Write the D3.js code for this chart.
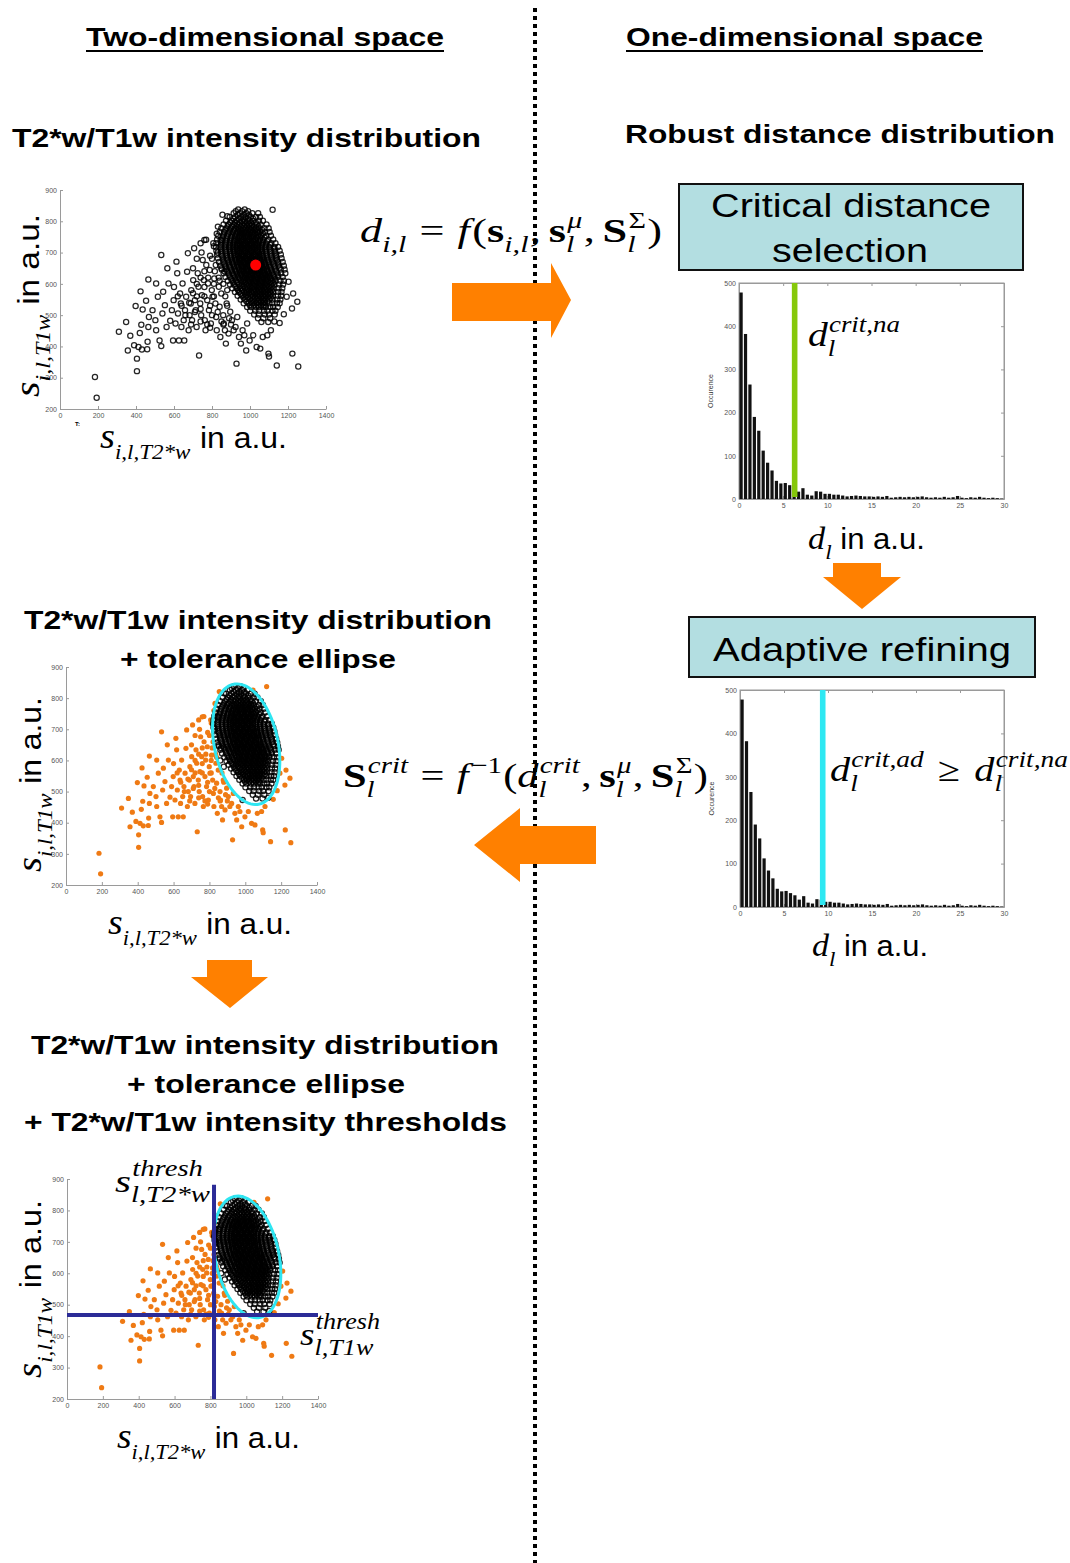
<!DOCTYPE html>
<html>
<head>
<meta charset="utf-8">
<script src="https://cdn.jsdelivr.net/npm/d3@7"></script>
<style>
  body { margin: 0; background: #fff; }
  svg { display: block; }
  .ax path, .ax line { stroke: #9a9a9a; }
  .ax text { font-family: 'Liberation Sans', Arial, sans-serif; font-size: 7px; fill: #555; }
</style>
</head>
<body>
<svg id="fig"></svg>
<script>
// tick labels
const xTicks = [0, 200, 400, 600, 800, 1000, 1200, 1400];
const yTicks = [200, 300, 400, 500, 600, 700, 800, 900];
const dTicks = [0, 5, 10, 15, 20, 25, 30];
const occTicks = [0, 100, 200, 300, 400, 500];

// robust distance histogram, bins of 0.5 a.u. from 0 to 30
const binWidth = 0.5;
const occurrence = [478, 382, 265, 190, 158, 112, 84, 66, 42, 36,
                    37, 32, 27, 17, 25, 10, 8, 18, 17, 12,
                    12, 10, 10, 8, 6, 7, 8, 7, 6, 6,
                    5, 6, 5, 7, 3, 4, 5, 4, 5, 4,
                    5, 6, 4, 3, 4, 3, 5, 3, 4, 7,
                    3, 2, 4, 3, 5, 3, 2, 3, 2, 1];

// voxels away from the main cluster [T2*w, T1w]
const scattered = [
    [184,302],[193,236],[310,447],[348,478],[357,387],[370,434],[390,404],[398,529],[405,361],
    [405,321],[413,398],[420,443],[424,576],[428,469],[431,390],[435,518],[453,546],[459,391],
    [461,415],[465,614],[465,462],[468,494],[487,516],[502,484],[506,452],[506,601],[515,559],
    [524,419],[533,401],[533,692],[539,505],[543,575],[552,532],[561,462],[565,650],[571,601],
    [580,482],[589,516],[595,419],[598,548],[608,473],[613,671],[617,634],[621,505],[626,419],
    [632,569],[636,537],[639,462],[645,601],[651,484],[654,419],[658,516],[664,559],[669,639],
    [673,698],[677,452],[682,500],[688,537],[691,580],[695,484],[701,612],[706,714],[710,548],
    [714,516],[719,462],[725,634],[729,591],[732,371],[738,537],[743,500],[747,564],[751,676],
    [757,612],[762,484],[766,452],[769,741],[775,548],[779,601],[784,516],[788,644],[794,473],
    [799,580],[803,559],[807,730],[812,617],[818,537],[822,494],[825,452],[831,783],[836,591],
    [840,527],[844,430],[849,569],[855,821],[859,500],[862,473],[868,452],[873,409],[877,537],
    [881,816],[887,441],[896,511],[905,484],[914,452],[924,462],[929,345],[933,494],[942,430],
    [952,409],[961,452],[970,436],[980,387],[985,473],[998,419],[1017,436],[1035,398],[1054,393],
    [1067,430],[1091,436],[1097,377],[1100,368],[1110,452],[1128,480],[1141,339],[1178,503],
    [1203,607],[1221,521],[1227,569],[1249,543],[1223,377],[1254,336],[1119,837],[1156,475],
    [1193,559],[760,560],[790,530],[810,600],[840,610],[850,650],[700,570],[720,600],[760,640],
    [820,660],[680,540],[740,520],[790,690],[830,700],[845,740],[700,650],[720,680],[745,700],
    [770,660],[800,680],[815,640],[835,620],[860,600],[870,560],[880,530],[850,480],[830,510],
    [800,500],[775,470],[740,480],[710,510],[690,470],[660,500],[640,530],[620,560],[600,590],
    [760,590],[780,620],[740,620],[720,560],[810,560],[790,460],[860,470],[890,490],[900,470],
    [760,740],[740,730],[880,580],[865,640],[825,760],[810,720]
];

// main cluster, one row per T1w level: [T1w, [T2*w values]]
const clusterRows = [
    [838, [938, 972]],
    [832, [925, 958, 990]],
    [826, [914, 947, 981, 1012, 1043]],
    [820, [935, 965, 995]],
    [814, [893, 922, 954, 976, 1004, 1031, 1052]],
    [808, [912, 940, 966, 990, 1017]],
    [802, [874, 905, 928, 957, 973, 998, 1016, 1047, 1068]],
    [796, [896, 920, 945, 966, 986, 1006, 1030]],
    [790, [861, 887, 916, 934, 959, 975, 996, 1011, 1036, 1056, 1087]],
    [784, [882, 906, 928, 950, 968, 986, 1004, 1022, 1044]],
    [778, [849, 877, 898, 924, 940, 962, 976, 997, 1010, 1032, 1048, 1077, 1098]],
    [772, [870, 894, 916, 937, 955, 972, 990, 1006, 1024, 1042, 1064]],
    [766, [841, 864, 892, 910, 934, 948, 969, 982, 1002, 1015, 1037, 1053, 1080, 1103]],
    [760, [862, 886, 908, 928, 946, 962, 979, 995, 1012, 1028, 1046, 1068]],
    [754, [833, 860, 880, 906, 922, 944, 956, 976, 988, 1008, 1020, 1042, 1058, 1086, 1110]],
    [748, [855, 879, 901, 921, 939, 955, 971, 987, 1003, 1019, 1036, 1055, 1077]],
    [742, [827, 850, 878, 896, 920, 934, 954, 966, 986, 998, 1018, 1030, 1052, 1068, 1096, 1122]],
    [736, [850, 874, 896, 916, 934, 950, 966, 982, 998, 1014, 1030, 1048, 1067, 1090]],
    [730, [823, 849, 870, 896, 912, 934, 946, 966, 978, 998, 1010, 1030, 1043, 1066, 1084, 1112, 1134]],
    [724, [846, 871, 893, 913, 931, 947, 963, 979, 995, 1011, 1027, 1044, 1062, 1083, 1107]],
    [718, [821, 844, 872, 890, 914, 928, 948, 960, 980, 992, 1012, 1024, 1044, 1058, 1082, 1102, 1128, 1148]],
    [712, [847, 871, 893, 913, 931, 947, 963, 979, 995, 1011, 1027, 1043, 1061, 1081, 1105, 1129]],
    [706, [823, 850, 870, 896, 912, 934, 946, 966, 978, 998, 1010, 1030, 1042, 1064, 1080, 1108, 1130, 1156]],
    [700, [849, 874, 896, 916, 934, 950, 966, 982, 998, 1014, 1030, 1046, 1064, 1084, 1108, 1134]],
    [694, [827, 850, 878, 896, 920, 934, 954, 966, 986, 998, 1018, 1030, 1050, 1064, 1088, 1108, 1138, 1162]],
    [688, [854, 878, 900, 920, 938, 954, 970, 986, 1002, 1018, 1034, 1050, 1068, 1088, 1112, 1137]],
    [682, [831, 858, 878, 904, 920, 942, 954, 974, 986, 1006, 1018, 1038, 1050, 1072, 1088, 1116, 1138, 1166]],
    [676, [859, 883, 905, 925, 943, 959, 975, 991, 1007, 1023, 1039, 1055, 1073, 1093, 1117, 1143]],
    [670, [837, 860, 888, 906, 930, 944, 964, 976, 996, 1008, 1028, 1040, 1060, 1074, 1098, 1118, 1148, 1172]],
    [664, [865, 889, 911, 931, 949, 965, 981, 997, 1013, 1029, 1045, 1061, 1079, 1099, 1123, 1149]],
    [658, [843, 870, 890, 916, 932, 954, 966, 986, 998, 1018, 1030, 1050, 1062, 1084, 1100, 1128, 1150, 1178]],
    [652, [872, 896, 918, 938, 956, 972, 988, 1004, 1020, 1036, 1052, 1068, 1086, 1106, 1130, 1156]],
    [646, [851, 874, 902, 920, 944, 958, 978, 990, 1010, 1022, 1042, 1054, 1074, 1088, 1112, 1132, 1162, 1182]],
    [640, [881, 905, 926, 946, 964, 980, 996, 1012, 1028, 1044, 1060, 1076, 1094, 1114, 1138]],
    [634, [861, 888, 908, 932, 948, 970, 982, 1002, 1014, 1034, 1046, 1066, 1078, 1100, 1116, 1144, 1164, 1186]],
    [628, [891, 914, 935, 954, 972, 988, 1004, 1020, 1036, 1052, 1068, 1084, 1102, 1122, 1146]],
    [622, [871, 894, 920, 938, 960, 974, 994, 1006, 1026, 1038, 1058, 1070, 1090, 1104, 1128, 1148, 1172]],
    [616, [901, 923, 945, 963, 981, 997, 1013, 1029, 1045, 1061, 1077, 1093, 1111, 1131]],
    [610, [883, 908, 926, 952, 966, 988, 1000, 1020, 1032, 1052, 1064, 1084, 1096, 1118, 1134, 1160, 1178]],
    [604, [912, 934, 955, 973, 991, 1007, 1023, 1039, 1055, 1071, 1087, 1104, 1123]],
    [598, [895, 916, 942, 958, 980, 994, 1014, 1026, 1046, 1058, 1078, 1090, 1112, 1128, 1154, 1174]],
    [592, [924, 946, 966, 984, 1002, 1018, 1034, 1050, 1066, 1082, 1098, 1117]],
    [586, [907, 932, 950, 974, 988, 1010, 1022, 1042, 1054, 1074, 1086, 1108, 1124, 1150, 1170]],
    [580, [937, 959, 979, 997, 1015, 1031, 1047, 1063, 1079, 1095, 1115]],
    [574, [921, 942, 968, 984, 1006, 1020, 1040, 1052, 1072, 1084, 1106, 1122, 1148, 1166]],
    [568, [951, 973, 993, 1011, 1029, 1045, 1061, 1077, 1093, 1112]],
    [562, [935, 960, 978, 1002, 1016, 1038, 1050, 1070, 1082, 1104, 1120, 1146, 1164]],
    [556, [966, 988, 1008, 1026, 1043, 1059, 1075, 1091, 1110]],
    [550, [951, 972, 998, 1014, 1036, 1048, 1068, 1080, 1102, 1118, 1144, 1160]],
    [544, [982, 1004, 1024, 1042, 1058, 1074, 1091]],
    [538, [967, 992, 1010, 1034, 1048, 1068, 1080, 1102, 1118, 1142, 1156]],
    [532, [999, 1021, 1041, 1059, 1076]],
    [526, [985, 1006, 1032, 1048, 1070, 1084, 1106, 1122, 1146]],
    [514, [1001, 1028, 1048, 1074, 1092, 1118, 1134]],
    [502, [1022, 1046, 1078, 1100, 1130]],
    [490, [1042, 1070, 1106]],
    [478, [1060, 1096]]
];

const centroid = [1030, 660];
// tolerance ellipse: centre and two half-axis vectors (data units)
const ellipseCenter = [1005, 652];
const ellipseAxisA = [-75, 192];
const ellipseAxisB = [172, 25];
const dCritNa = 6.3;
const dCritAd = 9.4;
const threshT2 = 820;
const threshT1 = 467;

const sans = "'Liberation Sans', Arial, sans-serif";
const serif = "'Liberation Serif', 'Times New Roman', serif";
const orange = "#ff8000";

const svg = d3.select("#fig").attr("width", 1070).attr("height", 1563);

// dotted separator
svg.append("line").attr("x1", 535).attr("x2", 535).attr("y1", 8).attr("y2", 1563)
    .attr("stroke", "#000").attr("stroke-width", 4).attr("stroke-dasharray", "4 4");

function label(txt, x, y, fs, opt) {
    opt = opt || {};
    const t = svg.append("text").attr("x", x).attr("y", y)
        .attr("font-family", sans).attr("font-size", fs)
        .attr("font-weight", opt.bold ? "bold" : null)
        .attr("text-anchor", opt.anchor || "start").text(txt);
    if (opt.len) t.attr("textLength", opt.len).attr("lengthAdjust", "spacingAndGlyphs");
    return t;
}

// little LaTeX-ish writer: italic / bold / sans pieces, stacked sub+sup
function mathText(parent, x, y, fs, parts) {
    const t = parent.append("text").attr("x", x).attr("y", y)
        .attr("font-family", serif).attr("font-size", fs).attr("fill", "#000");
    let cur = 0, carry = 0;
    const span = (txt, style, size, off, dx) => {
        const s = t.append("tspan").text(txt).attr("font-size", size)
            .attr("dy", off - cur).attr("dx", (dx || 0) + carry);
        carry = 0;
        cur = off;
        if (style.includes("i")) s.attr("font-style", "italic");
        if (style.includes("b")) s.attr("font-weight", "bold");
        if (style.includes("s")) s.attr("font-family", sans);
        return s;
    };
    parts.forEach(p => {
        if (p.sub !== undefined || p.sup !== undefined) {
            const sz = fs * (p.scale || 0.68);
            let wSub = 0;
            if (p.sub) wSub = span(p.sub, "i", sz, fs * (p.subOff || 0.28), p.dx).node().getComputedTextLength();
            if (p.sup) {
                const s = span(p.sup, p.supStyle || "i", sz, -fs * (p.supOff || 0.42),
                    p.sub ? -wSub + (p.supShift || 1) : p.dx);
                const wSup = s.node().getComputedTextLength() + (p.sub ? (p.supShift || 1) : 0);
                if (wSub > wSup) carry = wSub - wSup;
            }
        } else {
            span(p.t, p.s || "r", p.fs || fs, 0, p.dx);
        }
    });
    return t;
}

// same, but stretched sideways to the width it has in the figure
function mathFit(x, y, fs, parts, width, rotated) {
    const g = svg.append("g");
    const t = mathText(g, 0, 0, fs, parts);
    const k = width / t.node().getBBox().width;
    g.attr("transform", "translate(" + x + "," + y + ")" + (rotated ? " rotate(-90)" : "") +
        " scale(" + k + ",1)");
    return g;
}

function arrow(pts) {
    svg.append("path").attr("d", d3.line()(pts) + "Z").attr("fill", orange);
}

// headers
[["Two-dimensional space", 86, 358], ["One-dimensional space", 626, 357]].forEach(h => {
    label(h[0], h[1], 46, 26, {bold: true, len: h[2]});
    svg.append("line").attr("x1", h[1]).attr("x2", h[1] + h[2]).attr("y1", 51).attr("y2", 51)
        .attr("stroke", "#000").attr("stroke-width", 2.2);
});
label("T2*w/T1w intensity distribution", 12, 147, 26, {bold: true, len: 469});
label("Robust distance distribution", 625, 143, 26, {bold: true, len: 430});
label("T2*w/T1w intensity distribution", 24, 629, 26, {bold: true, len: 468});
label("+ tolerance ellipse", 120, 668, 26, {bold: true, len: 276});
label("T2*w/T1w intensity distribution", 31, 1054, 26, {bold: true, len: 468});
label("+ tolerance ellipse", 127, 1093, 26, {bold: true, len: 278});
label("+ T2*w/T1w intensity thresholds", 24, 1131, 26, {bold: true, len: 483});

// boxes
svg.append("rect").attr("x", 679).attr("y", 184).attr("width", 344).attr("height", 86)
    .attr("fill", "#b3dee1").attr("stroke", "#111").attr("stroke-width", 2);
label("Critical distance", 711, 217, 34, {len: 280});
label("selection", 772, 262, 34, {len: 156});
svg.append("rect").attr("x", 689).attr("y", 617).attr("width", 346).attr("height", 60)
    .attr("fill", "#b3dee1").attr("stroke", "#111").attr("stroke-width", 2);
label("Adaptive refining", 713, 661, 34, {len: 298});

// arrows
arrow([[452, 283], [551, 283], [551, 263], [571, 300], [551, 338], [551, 321], [452, 321]]);
arrow([[833, 563], [881, 563], [881, 577], [901, 577], [862, 609], [823, 577], [833, 577]]);
arrow([[596, 826], [520, 826], [520, 808], [474, 845], [520, 882], [520, 864], [596, 864]]);
arrow([[207, 960], [252, 960], [252, 977], [268, 977], [230, 1008], [191, 977], [207, 977]]);

const allPoints = scattered.concat(clusterRows.flatMap(r => r[1].map(v => [v, r[0]])));

function insideEllipse(p) {
    const dx = p[0] - ellipseCenter[0], dy = p[1] - ellipseCenter[1];
    const A = ellipseAxisA, B = ellipseAxisB;
    const det = A[0] * B[1] - A[1] * B[0];
    const a = (dx * B[1] - dy * B[0]) / det;
    const b = (A[0] * dy - A[1] * dx) / det;
    return a * a + b * b <= 1;
}

function scatterPanel(b, mode) {
    const x = d3.scaleLinear().domain([0, 1400]).range([b.left, b.right]);
    const y = d3.scaleLinear().domain([200, 900]).range([b.bottom, b.top]);
    const g = svg.append("g");
    g.append("g").attr("class", "ax").attr("transform", "translate(0," + b.bottom + ")")
        .call(d3.axisBottom(x).tickValues(xTicks).tickFormat(d3.format("d"))
            .tickSize(-3).tickSizeOuter(0).tickPadding(4));
    g.append("g").attr("class", "ax").attr("transform", "translate(" + b.left + ",0)")
        .call(d3.axisLeft(y).tickValues(yTicks).tickSize(-3).tickSizeOuter(0).tickPadding(3));

    const open = mode === "plain" ? allPoints : allPoints.filter(insideEllipse);
    const out = mode === "plain" ? [] : allPoints.filter(p => !insideEllipse(p));

    g.append("g").selectAll("circle").data(out).enter().append("circle")
        .attr("cx", d => x(d[0])).attr("cy", d => y(d[1])).attr("r", 2.6)
        .attr("fill", "#ef7a14");
    g.append("g").selectAll("circle").data(open).enter().append("circle")
        .attr("cx", d => x(d[0])).attr("cy", d => y(d[1])).attr("r", 2.6)
        .attr("fill", "none").attr("stroke", "#000").attr("stroke-width", 1.25)
        .attr("stroke-opacity", 0.85);

    if (mode === "plain") {
        g.append("circle").attr("cx", x(centroid[0])).attr("cy", y(centroid[1])).attr("r", 5.5)
            .attr("fill", "#ff0000");
    } else {
        const ring = d3.range(0, 361, 4).map(a => {
            const t = a * Math.PI / 180;
            return [ellipseCenter[0] + Math.cos(t) * ellipseAxisA[0] + Math.sin(t) * ellipseAxisB[0],
                    ellipseCenter[1] + Math.cos(t) * ellipseAxisA[1] + Math.sin(t) * ellipseAxisB[1]];
        });
        g.append("path").attr("d", d3.line().x(d => x(d[0])).y(d => y(d[1]))(ring))
            .attr("fill", "none").attr("stroke", "#2ee6f2").attr("stroke-width", 3);
    }
    if (mode === "thresh") {
        g.append("line").attr("x1", x(threshT2)).attr("x2", x(threshT2))
            .attr("y1", y(200)).attr("y2", y(882))
            .attr("stroke", "#2b2b97").attr("stroke-width", 4);
        g.append("line").attr("x1", x(0)).attr("x2", x(1400))
            .attr("y1", y(threshT1)).attr("y2", y(threshT1))
            .attr("stroke", "#2b2b97").attr("stroke-width", 4);
    }
    return g;
}

function histPanel(b, crit, color) {
    const x = d3.scaleLinear().domain([0, 30]).range([b.left, b.right]);
    const y = d3.scaleLinear().domain([0, 500]).range([b.bottom, b.top]);
    const g = svg.append("g");
    g.append("rect").attr("x", b.left).attr("y", b.top).attr("width", b.right - b.left)
        .attr("height", b.bottom - b.top).attr("fill", "none").attr("stroke", "#9a9a9a");
    g.append("g").attr("class", "ax").attr("transform", "translate(0," + b.bottom + ")")
        .call(d3.axisBottom(x).tickValues(dTicks).tickSize(-3).tickSizeOuter(0).tickPadding(4));
    g.append("g").attr("class", "ax").attr("transform", "translate(" + b.left + ",0)")
        .call(d3.axisLeft(y).tickValues(occTicks).tickSize(-3).tickSizeOuter(0).tickPadding(3));
    g.append("g").attr("class", "ax").attr("transform", "translate(0," + b.top + ")")
        .call(d3.axisTop(x).tickValues(dTicks).tickSize(-3).tickSizeOuter(0).tickFormat(""));
    g.append("g").attr("class", "ax").attr("transform", "translate(" + b.right + ",0)")
        .call(d3.axisRight(y).tickValues(occTicks).tickSize(-3).tickSizeOuter(0).tickFormat(""));
    const bw = x(binWidth) - x(0);
    g.append("g").selectAll("rect").data(occurrence).enter().append("rect")
        .attr("x", (d, i) => x(i * binWidth) + 0.5)
        .attr("width", bw - 1.2)
        .attr("y", d => y(d))
        .attr("height", d => y(0) - y(d))
        .attr("fill", "#111");
    g.append("rect").attr("x", x(crit) - 2.8).attr("width", 5.6)
        .attr("y", y(500)).attr("height", y(0) - y(500) - 2).attr("fill", color);
    g.append("text").attr("transform", "translate(" + (b.left - 26) + "," + ((b.top + b.bottom) / 2) + ") rotate(-90)")
        .attr("text-anchor", "middle").attr("font-family", sans).attr("font-size", 7)
        .attr("fill", "#333").text("Occurence");
    return g;
}

// scatter panels
scatterPanel({left: 60, right: 326, top: 190, bottom: 409}, "plain");
scatterPanel({left: 66, right: 317, top: 667, bottom: 885}, "ellipse");
scatterPanel({left: 67, right: 318, top: 1179, bottom: 1399}, "thresh");
label("T:", 75, 426, 6, {bold: true});

// histograms
histPanel({left: 739, right: 1004, top: 283, bottom: 499}, dCritNa, "#86c80a");
histPanel({left: 740, right: 1004, top: 690, bottom: 907}, dCritAd, "#2ee8f2");

// axis labels
const xLabelParts = [
    {t: "s", s: "i"},
    {sub: "i,l,T2*w", scale: 0.6, subOff: 0.3},
    {t: "in a.u.", s: "s", fs: 30, dx: 9}
];
const yLabelParts = [
    {t: "s", s: "i"},
    {sub: "i,l,T1w", scale: 0.6, subOff: 0.3},
    {t: "in a.u.", s: "s", fs: 30, dx: 9}
];
mathFit(100, 448, 36, xLabelParts, 187);
mathFit(108, 934, 36, xLabelParts, 184);
mathFit(117, 1448, 36, xLabelParts, 183);
mathFit(39, 397, 36, yLabelParts, 183, true);
mathFit(41, 872, 36, yLabelParts, 175, true);
mathFit(41, 1378, 36, yLabelParts, 178, true);

const dLabelParts = [
    {t: "d", s: "i"},
    {sub: "l", subOff: 0.3},
    {t: "in a.u.", s: "s", fs: 29, dx: 8}
];
mathFit(808, 549, 32, dLabelParts, 117);
mathFit(812, 956, 32, dLabelParts, 116);

// formulas
mathFit(360, 242, 34, [
    {t: "d", s: "i"}, {sub: "i,l"},
    {t: "=", dx: 10}, {t: "f", s: "i", dx: 10}, {t: "(", dx: 2},
    {t: "s", s: "b"}, {sub: "i,l"}, {t: ",", dx: 1},
    {t: "s", s: "b", dx: 6}, {sub: "l", sup: "μ"}, {t: ",", dx: 1},
    {t: "S", s: "b", dx: 6}, {sub: "l", sup: "Σ", supStyle: "r"}, {t: ")", dx: 1}
], 302);
mathFit(343, 787, 34, [
    {t: "S", s: "b"}, {sub: "l", sup: "crit"},
    {t: "=", dx: 10}, {t: "f", s: "i", dx: 10}, {sup: "−1", supStyle: "r", dx: 2}, {t: "(", dx: 1},
    {t: "d", s: "i"}, {sub: "l", sup: "crit"}, {t: ",", dx: 1},
    {t: "s", s: "b", dx: 6}, {sub: "l", sup: "μ"}, {t: ",", dx: 1},
    {t: "S", s: "b", dx: 6}, {sub: "l", sup: "Σ", supStyle: "r"}, {t: ")", dx: 1}
], 365);
mathFit(830, 781, 34, [
    {t: "d", s: "i"}, {sub: "l", sup: "crit,ad"},
    {t: "≥", dx: 12},
    {t: "d", s: "i", dx: 12}, {sub: "l", sup: "crit,na"}
], 238);
mathFit(808, 346, 34, [
    {t: "d", s: "i"}, {sub: "l", sup: "crit,na"}
], 92);
mathFit(115, 1192, 32, [
    {t: "s", s: "i"}, {sub: "l,T2*w", sup: "thresh", scale: 0.7, supOff: 0.5, subOff: 0.3}
], 95);
mathFit(300, 1345, 32, [
    {t: "s", s: "i"}, {sub: "l,T1w", sup: "thresh", scale: 0.7, supOff: 0.5, subOff: 0.3}
], 80);
</script>
</body>
</html>
